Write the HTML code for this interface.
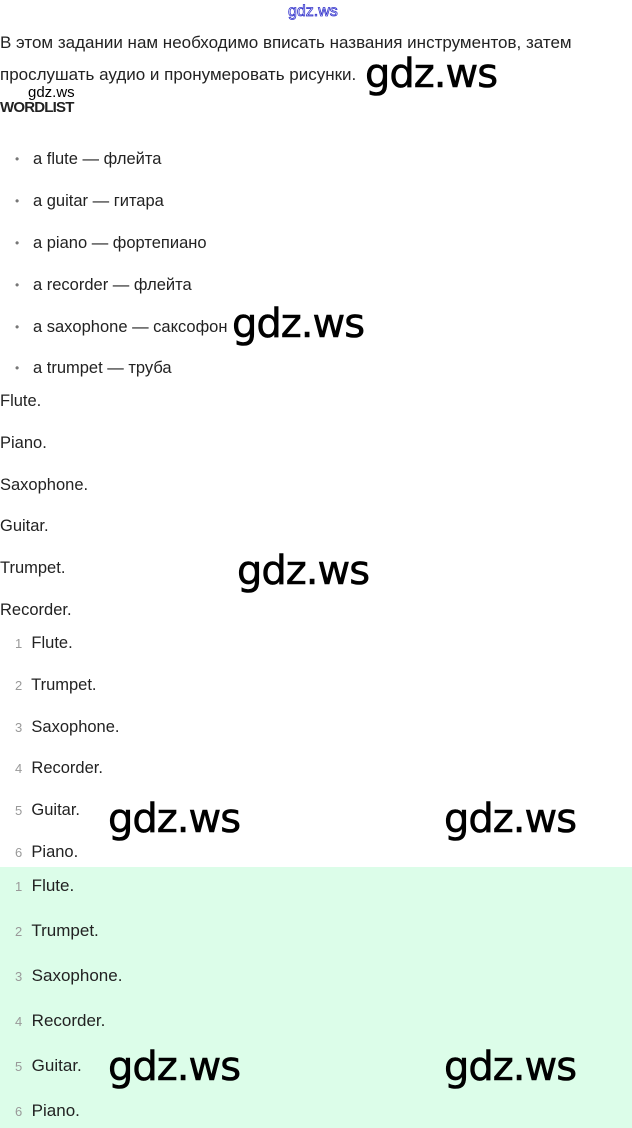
<!DOCTYPE html>
<html><head><meta charset="utf-8"><style>
body{margin:0;width:632px;height:1128px;position:relative;background:#fff;font-family:"Liberation Sans","DejaVu Sans",sans-serif;color:#222;overflow:hidden}
.t{position:absolute;white-space:nowrap;font-size:16.5px;line-height:20px}
.n{color:#999;font-size:13px}
.b{position:absolute;color:#777;font-size:12px;line-height:20px}
.w{position:absolute;font-size:40px;line-height:40px;color:#000;font-family:"DejaVu Sans","Liberation Sans",sans-serif;letter-spacing:-1px;-webkit-text-stroke:0.6px #000}
.g{position:absolute;left:0;top:867px;width:632px;height:261px;background:#dcfde9}
</style></head><body>
<div class="g"></div>
<div class="t" style="left:288px;top:2px;color:#fff;-webkit-text-stroke:0.8px #33c;font-size:16px">gdz.ws</div>
<div class="t" style="left:0;top:33px;font-size:17px">В этом задании нам необходимо вписать названия инструментов, затем</div>
<div class="t" style="left:0;top:65px;font-size:17px">прослушать аудио и пронумеровать рисунки.</div>
<div class="t" style="left:28px;top:83px;font-size:15px;color:#000">gdz.ws</div>
<div class="t" style="left:0;top:98px;font-weight:bold;font-size:15px;letter-spacing:-0.8px">WORDLIST</div>
<div class="b" style="left:15px;top:149px">•</div><div class="t" style="left:33px;top:149px">a flute — флейта</div>
<div class="b" style="left:15px;top:191px">•</div><div class="t" style="left:33px;top:191px">a guitar — гитара</div>
<div class="b" style="left:15px;top:233px">•</div><div class="t" style="left:33px;top:233px">a piano — фортепиано</div>
<div class="b" style="left:15px;top:275px">•</div><div class="t" style="left:33px;top:275px">a recorder — флейта</div>
<div class="b" style="left:15px;top:317px">•</div><div class="t" style="left:33px;top:317px">a saxophone — саксофон</div>
<div class="b" style="left:15px;top:358px">•</div><div class="t" style="left:33px;top:358px">a trumpet — труба</div>
<div class="t" style="left:0;top:391px">Flute.</div>
<div class="t" style="left:0;top:433px">Piano.</div>
<div class="t" style="left:0;top:475px">Saxophone.</div>
<div class="t" style="left:0;top:516px">Guitar.</div>
<div class="t" style="left:0;top:558px">Trumpet.</div>
<div class="t" style="left:0;top:600px">Recorder.</div>
<div class="t" style="left:15px;top:633px"><span class="n">1</span>&nbsp; Flute.</div>
<div class="t" style="left:15px;top:675px"><span class="n">2</span>&nbsp; Trumpet.</div>
<div class="t" style="left:15px;top:717px"><span class="n">3</span>&nbsp; Saxophone.</div>
<div class="t" style="left:15px;top:758px"><span class="n">4</span>&nbsp; Recorder.</div>
<div class="t" style="left:15px;top:800px"><span class="n">5</span>&nbsp; Guitar.</div>
<div class="t" style="left:15px;top:842px"><span class="n">6</span>&nbsp; Piano.</div>
<div class="t" style="left:15px;top:876px;font-size:17px"><span class="n">1</span>&nbsp; Flute.</div>
<div class="t" style="left:15px;top:921px;font-size:17px"><span class="n">2</span>&nbsp; Trumpet.</div>
<div class="t" style="left:15px;top:966px;font-size:17px"><span class="n">3</span>&nbsp; Saxophone.</div>
<div class="t" style="left:15px;top:1011px;font-size:17px"><span class="n">4</span>&nbsp; Recorder.</div>
<div class="t" style="left:15px;top:1056px;font-size:17px"><span class="n">5</span>&nbsp; Guitar.</div>
<div class="t" style="left:15px;top:1101px;font-size:17px"><span class="n">6</span>&nbsp; Piano.</div>
<div class="w" style="left:365px;top:54px">gdz.ws</div>
<div class="w" style="left:232px;top:304px">gdz.ws</div>
<div class="w" style="left:237px;top:551px">gdz.ws</div>
<div class="w" style="left:108px;top:799px">gdz.ws</div>
<div class="w" style="left:444px;top:799px">gdz.ws</div>
<div class="w" style="left:108px;top:1047px">gdz.ws</div>
<div class="w" style="left:444px;top:1047px">gdz.ws</div>
</body></html>
